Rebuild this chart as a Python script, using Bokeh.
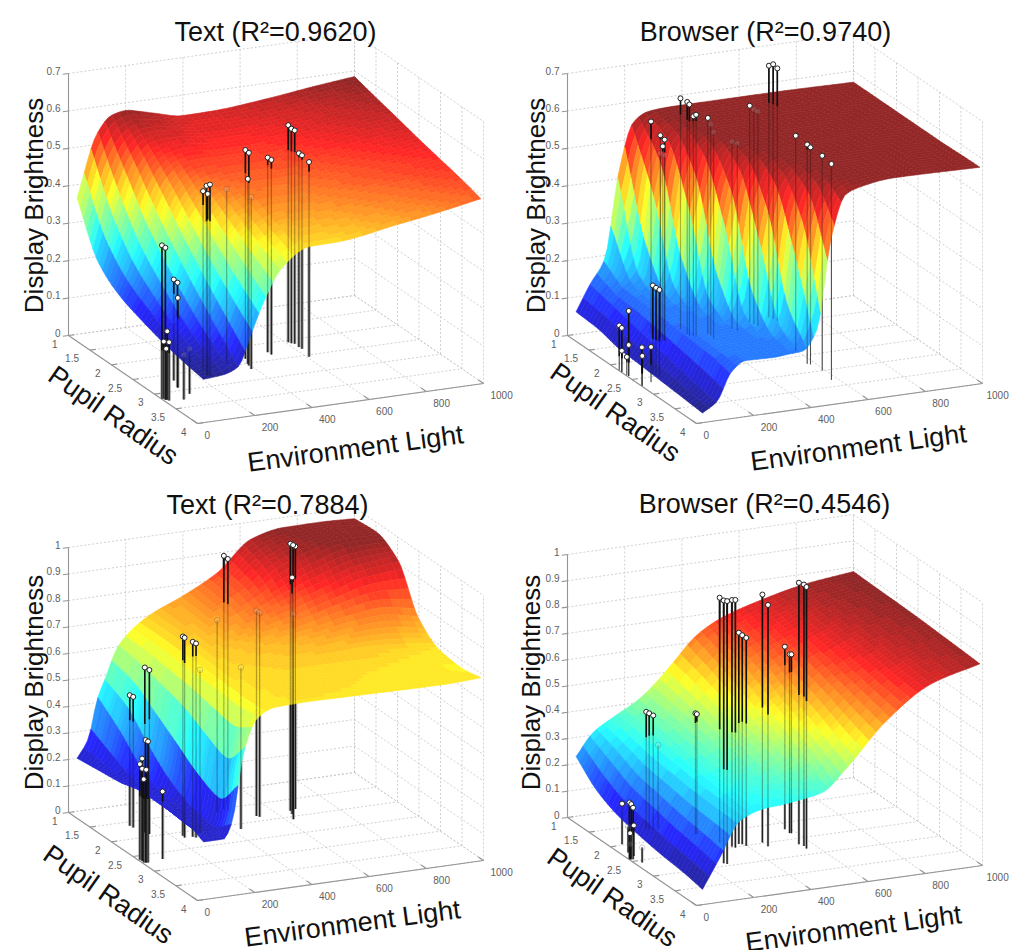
from bokeh.plotting import figure
from bokeh.layouts import column, row
from bokeh.models import Range1d, ColumnDataSource
from bokeh.core.properties import value
from bokeh.embed import file_html
from bokeh.resources import INLINE
import numpy as np

# ---------- shared axis ticks ----------
LIGHT_TICKS = [0, 200, 400, 600, 800, 1000]
PUPIL_TICKS = [1, 1.5, 2, 2.5, 3, 3.5, 4]
PUPIL_LABELS = ["1", "1.5", "2", "2.5", "3", "3.5", "4"]
BRIGHT_TICKS_07 = [0, 0.1, 0.2, 0.3, 0.4, 0.5, 0.6, 0.7]
BRIGHT_TICKS_10 = [0, 0.1, 0.2, 0.3, 0.4, 0.5, 0.6, 0.7, 0.8, 0.9, 1]
PUPIL_KNOTS = [1, 1.5, 2, 2.5, 3, 3.5, 3.94]

# ---------- Text (R2=0.9620) ----------
A_TITLE = "Text (R²=0.9620)"
A_LIGHT = [30, 100, 150, 200, 250, 300, 400, 500, 700, 850, 1000]
A_Z = [
    [.364, .529, .572, .580, .572, .562, .545, .546, .559, .573, .585],
    [.230, .400, .490, .530, .540, .540, .530, .530, .540, .555, .568],
    [.180, .300, .400, .470, .500, .510, .510, .510, .525, .540, .552],
    [.155, .235, .320, .400, .450, .475, .490, .490, .505, .520, .535],
    [.135, .180, .250, .330, .400, .440, .470, .470, .490, .505, .520],
    [.120, .140, .185, .270, .350, .405, .445, .450, .470, .487, .505],
    [.110, .115, .130, .220, .310, .375, .425, .427, .450, .468, .489],
]
A_PT_L = [2, 8, 13, 15, 7, 11, 114, 97, 95, 62, 103, 242, 230, 236, 234, 338, 414, 396, 400, 388, 507, 508, 609, 614, 621, 619, 621, 608]
A_PT_P = [3.16, 3.2, 3.21, 3.24, 3.17, 3.2, 2.69, 2.89, 2.91, 3.27, 3.13, 2.52, 2.68, 2.72, 2.68, 2.43, 2.36, 2.56, 2.51, 2.67, 2.26, 2.34, 2.06, 2.10, 2.13, 2.24, 2.30, 2.55]
A_PT_Z = [.41, .406, .183, .156, .153, .136, .27, .279, .24, .119, .12, .479, .507, .513, .485, .467, .558, .568, .494, .459, .52, .52, .58, .573, .57, .518, .517, .52]

# ---------- Browser (R2=0.9740) ----------
B_TITLE = "Browser (R²=0.9740)"
B_LIGHT = [30, 80, 130, 180, 230, 280, 330, 380, 430, 480, 530, 580, 700, 1000]
B_Z = [
    [.060, .130, .190, .420, .545, .568, .572, .573, .573, .573, .573, .573, .573, .570],
    [.055, .115, .150, .185, .414, .545, .570, .573, .573, .573, .573, .573, .573, .570],
    [.040, .100, .145, .150, .190, .420, .545, .570, .573, .573, .573, .573, .573, .570],
    [.035, .085, .140, .148, .150, .190, .420, .545, .570, .573, .573, .573, .573, .570],
    [.030, .070, .135, .147, .148, .150, .185, .414, .545, .568, .573, .573, .573, .570],
    [.025, .055, .130, .145, .146, .148, .150, .190, .420, .545, .570, .574, .575, .572],
    [.020, .045, .118, .144, .143, .142, .145, .148, .200, .440, .550, .565, .577, .573],
]
B_PT_L = [2, 2, 5, 5, 2, 3, 3, 3, 44, 85, 87, 90, 250, 263, 260, 258, 263, 260, 356, 354, 354, 365, 373, 414, 415, 410, 506, 514, 586, 590, 595, 662, 668, 672, 598, 575, 582, 590, 577]
B_PT_P = [2.19, 2.25, 2.39, 2.39, 2.25, 2.36, 2.71, 2.72, 2.65, 2.42, 2.48, 2.54, 1.28, 1.41, 1.53, 1.5, 1.41, 1.53, 1.26, 1.43, 1.48, 1.5, 1.51, 1.51, 1.57, 1.67, 1.46, 1.53, 1.34, 1.41, 1.47, 1.28, 1.34, 1.41, 2.33, 2.75, 2.78, 3.0, 3.3]
B_PT_Z = [.12, .118, .174, .083, .057, .049, .102, .08, .094, .236, .234, .233, .567, .539, .537, .517, .49, .495, .616, .62, .617, .586, .59, .577, .565, .552, .5, .5, .578, .573, .572, .672, .68, .674, .574, .586, .58, .574, .577]

# ---------- Text (R2=0.7884) ----------
C_TITLE = "Text (R²=0.7884)"
C_LIGHT = [30, 70, 100, 130, 170, 220, 280, 400, 520, 640, 750, 870, 1000]
C_Z = [
    [.20, .27, .41, .49, .595, .655, .70, .757, .826, .936, .962, .963, .958],
    [.21, .24, .34, .45, .58, .655, .70, .75, .81, .90, .945, .97, .964],
    [.22, .22, .26, .36, .55, .65, .695, .735, .775, .82, .86, .90, .915],
    [.24, .22, .22, .28, .52, .645, .69, .71, .725, .74, .76, .77, .745],
    [.24, .21, .21, .23, .47, .64, .685, .695, .70, .70, .70, .69, .68],
    [.24, .20, .20, .21, .43, .635, .68, .69, .69, .685, .68, .675, .67],
    [.21, .21, .21, .27, .525, .65, .68, .684, .682, .68, .678, .677, .683],
]
C_PT_L = [651, 673, 662, 642, 624, 465, 470, 431, 531, 536, 233, 230, 257, 264, 296, 430, 136, 143, 121, 124, 11, 18, 8, 6, 8, 13, 6, 75]
C_PT_P = [1.83, 1.8, 1.82, 1.93, 2.08, 1.52, 1.58, 1.59, 1.84, 1.88, 2.11, 2.17, 2.18, 2.21, 2.09, 2.15, 1.87, 1.93, 1.62, 1.68, 2.72, 2.73, 2.66, 2.62, 2.66, 2.72, 2.71, 2.69]
C_PT_Z = [1.008, .991, 1.0, .893, .774, .956, .95, .726, .774, .771, .752, .754, .736, .732, .614, .61, .623, .619, .493, .493, .462, .457, .386, .361, .348, .35, .314, .255]

# ---------- Browser (R2=0.4546) ----------
D_TITLE = "Browser (R²=0.4546)"
D_LIGHT = [30, 90, 160, 250, 310, 370, 450, 530, 670, 830, 1000]
D_Z = [
    [.227, .310, .357, .412, .467, .534, .623, .673, .722, .761, .783],
    [.150, .270, .340, .400, .450, .510, .590, .645, .700, .755, .780],
    [.110, .230, .320, .385, .430, .480, .550, .610, .680, .745, .778],
    [.090, .210, .310, .365, .400, .445, .505, .560, .660, .735, .775],
    [.075, .190, .300, .350, .375, .410, .460, .520, .635, .725, .770],
    [.065, .175, .295, .335, .350, .370, .405, .470, .610, .715, .765],
    [.050, .160, .290, .325, .330, .338, .355, .430, .590, .710, .760],
]
D_PT_L = [335, 259, 265, 354, 360, 384, 393, 398, 459, 459, 581, 578, 583, 558, 565, 562, 179, 188, 196, 300, 305, 213, 45, 3, 8, 13, 27, 29, 4, 5, 25]
D_PT_P = [2.31, 2.91, 2.95, 2.47, 2.51, 2.43, 2.45, 2.51, 2.48, 2.61, 2.19, 2.32, 2.33, 2.67, 2.74, 2.82, 1.64, 1.65, 1.69, 1.98, 1.98, 1.69, 1.97, 2.42, 2.43, 2.44, 2.23, 2.35, 2.43, 2.43, 2.57]
D_PT_Z = [.931, .999, 1.0, .937, .941, .804, .795, .791, .943, .918, .694, .68, .68, .994, .994, .994, .446, .44, .435, .46, .456, .32, .154, .215, .209, .196, .099, .116, .099, .057, .057]

FONT = "Liberation Sans"
ALPHA = 0.85


def jet(t, levels=64):
    t = np.floor(np.clip(t, 0, 0.9999) * levels) / (levels - 1)
    r = np.clip(np.minimum(4 * t - 1.5, 4.5 - 4 * t), 0, 1)
    g = np.clip(np.minimum(4 * t - 0.5, 3.5 - 4 * t), 0, 1)
    b = np.clip(np.minimum(4 * t + 0.5, 2.5 - 4 * t), 0, 1)
    out = []
    for a, c, d in zip(r, g, b):
        rgb = [int(round(255 * (ALPHA * v + 1 - ALPHA))) for v in (a, c, d)]
        out.append("#%02x%02x%02x" % tuple(rgb))
    return out


def smooth(xk, yk, xq):
    xk = np.asarray(xk, float)
    yk = np.asarray(yk, float)
    h = np.diff(xk)
    s = np.diff(yk) / h
    m = np.zeros_like(yk)
    for i in range(1, len(xk) - 1):
        if s[i - 1] * s[i] > 0:
            w1, w2 = 2 * h[i] + h[i - 1], h[i] + 2 * h[i - 1]
            m[i] = (w1 + w2) / (w1 / s[i - 1] + w2 / s[i])
    m[0], m[-1] = s[0], s[-1]
    xq = np.asarray(xq, float)
    k = np.clip(np.searchsorted(xk, xq) - 1, 0, len(h) - 1)
    t = (xq - xk[k]) / h[k]
    return ((2 * t ** 3 - 3 * t ** 2 + 1) * yk[k] + (t ** 3 - 2 * t ** 2 + t) * h[k] * m[k]
            + (-2 * t ** 3 + 3 * t ** 2) * yk[k + 1] + (t ** 3 - t ** 2) * h[k] * m[k + 1])


def surface(lk, zt, lq, pq):
    """Value table on the (light, pupil) grid lq x pq."""
    rows = np.array([smooth(lk, r, lq) for r in zt])
    return np.array([smooth(PUPIL_KNOTS, rows[:, j], pq) for j in range(len(lq))]).T


def panel(title, lk, zt, ptl, ptp, ptz, zticks, zmax, clim, geo, frame, labels, tube=3.2, lab1000=0):
    ox, oy, H = geo
    xr, yr = frame
    p = figure(width=xr[1] - xr[0], height=yr[0] - yr[1], x_range=Range1d(*xr), y_range=Range1d(*yr),
               output_backend="svg", toolbar_location=None, x_axis_location=None, y_axis_location=None,
               min_border=0, outline_line_color=None, background_fill_color="white",
               border_fill_color="white")
    p.grid.visible = False

    def proj(L, P, Z):
        l = (np.asarray(L, float)) / 1000.0
        q = (np.asarray(P, float) - 1) / 3.0
        return ox + 286 * l + 129 * q, oy - 40 * l + 88 * q - H * np.asarray(Z, float) / zmax

    # grid on floor and two walls
    gx, gy = [], []
    def seg(a, b):
        x, y = proj(*zip(a, b))
        gx.append(list(x)); gy.append(list(y))
    for L in LIGHT_TICKS:
        seg((L, 1, 0), (L, 4, 0)); seg((L, 1, 0), (L, 1, zmax))
    for P in PUPIL_TICKS:
        seg((0, P, 0), (1000, P, 0)); seg((1000, P, 0), (1000, P, zmax))
    for Z in zticks:
        seg((0, 1, Z), (1000, 1, Z)); seg((1000, 1, Z), (1000, 4, Z))
    p.multi_line(gx, gy, line_color="#c4c4c4", line_width=0.8, line_dash="2 2")

    # solid axes
    ax, ay = [], []
    for a, b in [((0, 1, 0), (0, 1, zmax)), ((0, 1, 0), (0, 4, 0)), ((0, 4, 0), (1000, 4, 0))]:
        x, y = proj(*zip(a, b))
        ax.append(list(x)); ay.append(list(y))
    for Z in zticks:
        x, y = proj(*zip((0, 1, Z), (-20, 1, Z)))
        ax.append(list(x)); ay.append(list(y))
    for L in LIGHT_TICKS:
        x, y = proj(*zip((L, 4, 0), (L, 3.88, 0)))
        ax.append(list(x)); ay.append(list(y))
    for P in PUPIL_TICKS:
        x, y = proj(*zip((0, P, 0), (20, P, 0)))
        ax.append(list(x)); ay.append(list(y))
    p.multi_line(ax, ay, line_color="#959595", line_width=1.1)

    # stems behind the surface
    ptl, ptp, ptz = np.array(ptl, float), np.array(ptp, float), np.array(ptz, float)
    zero = np.zeros_like(ptz)
    x0, y0 = proj(ptl, ptp, zero)
    x1, y1 = proj(ptl, ptp, ptz)
    stems = ColumnDataSource(dict(x0=x0, y0=y0, x1=x1, y1=y1))
    if tube:
        p.segment("x0", "y0", "x1", "y1", source=stems, line_color="#8a8a8a", line_width=tube, line_alpha=0.75)
        p.segment("x0", "y0", "x1", "y1", source=stems, line_color="#111111", line_width=1.2, line_alpha=0.85)
    else:
        p.segment("x0", "y0", "x1", "y1", source=stems, line_color="#555555", line_width=1.0, line_alpha=0.9)

    # surface: flat facets, each one outlined finely so its silhouette stays smooth
    NL, NP, SUB = 40, 40, 2
    lq = np.linspace(lk[0], lk[-1], NL * SUB + 1)
    pq = np.linspace(PUPIL_KNOTS[0], PUPIL_KNOTS[-1], NP * SUB + 1)
    Z = surface(lk, zt, lq, pq)
    LL, PP = np.meshgrid(lq, pq)
    X, Y = proj(LL, PP, Z)
    xs, ys, vals = [], [], []
    for i in range(NL - 1, -1, -1):
        for j in range(NP):
            a, b = i * SUB, j * SUB
            ii = list(range(a, a + SUB)) + [a + SUB] * SUB + list(range(a + SUB, a, -1)) + [a] * SUB
            jj = [b] * SUB + list(range(b, b + SUB)) + [b + SUB] * SUB + list(range(b + SUB, b, -1))
            xs.append(X[jj, ii].tolist())
            ys.append(Y[jj, ii].tolist())
            vals.append(Z[b + SUB // 2, a + SUB // 2])
    cols = jet((np.array(vals) - clim[0]) / (clim[1] - clim[0]))
    p.patches(xs=xs, ys=ys, fill_color=cols, line_color=cols, line_width=0.6)

    # stems seen through the surface, and the parts standing above it
    p.segment("x0", "y0", "x1", "y1", source=stems, line_color="#111111", line_width=1.2, line_alpha=0.3)
    sz = np.array([surface(lk, zt, [max(a, lk[0])], [min(b, PUPIL_KNOTS[-1])])[0, 0] for a, b in zip(ptl, ptp)])
    above = ptz > sz
    xs0, ys0 = proj(ptl, ptp, sz)
    top = ColumnDataSource(dict(x0=x1[above], y0=np.minimum(ys0, y0)[above], x1=x1[above], y1=y1[above]))
    p.segment("x0", "y0", "x1", "y1", source=top, line_color="#111111", line_width=1.6)
    p.scatter(x1[~above], y1[~above], size=5.5, marker="circle", fill_color="white", fill_alpha=0.12,
              line_color="#222222", line_alpha=0.25, line_width=0.8)
    p.scatter(x1[above], y1[above], size=5, marker="circle", fill_color="white",
              line_color="#222222", line_width=1.0)

    # tick labels
    tick_kw = dict(text_font=value(FONT), text_font_size=value("10px"), text_color="#5e5e5e",
                   text_baseline="middle")
    zl = [("%g" % z) for z in zticks]
    zx, zy = proj([0] * len(zticks), [1] * len(zticks), zticks)
    p.text(zx - 8, zy - 3, text=zl, text_align="right", **tick_kw)
    lx, ly = proj(LIGHT_TICKS, [4] * 6, [0] * 6)
    lx = lx + 7
    lx[-1] += lab1000
    p.text(lx, ly + 11, text=[str(v) for v in LIGHT_TICKS], text_align="left", **tick_kw)
    px, py = proj([0] * 7, PUPIL_TICKS, [0] * 7)
    p.text(px - 11, py + 8, text=PUPIL_LABELS, text_align="right", **tick_kw)

    # titles and axis titles
    kw = dict(text_font=value(FONT), text_color="#111111", text_align="center")
    (tx, ty), (dx_, dy_), (ex, ey), (qx, qy) = labels
    p.text([tx], [ty], text=[title], text_font_size=value("27px"), text_baseline="alphabetic", **kw)
    p.text([dx_], [dy_], text=["Display Brightness"], text_font_size=value("26px"), angle=np.pi / 2,
           text_baseline="alphabetic", **kw)
    p.text([ex], [ey], text=["Environment Light"], text_font_size=value("27px"), angle=np.radians(7.6),
           text_baseline="alphabetic", **kw)
    p.text([qx], [qy], text=["Pupil Radius"], text_font_size=value("27px"), angle=np.radians(-35),
           text_baseline="middle", **kw)
    return p


p1 = panel(A_TITLE, A_LIGHT, A_Z, A_PT_L, A_PT_P, A_PT_Z, BRIGHT_TICKS_07, 0.7, (.11, .585), (68, 335, 262),
           ((0, 513), (475, 0)), ((275, 31), (33, 205), (355, 448), (113, 415)))
p2 = panel(B_TITLE, B_LIGHT, B_Z, B_PT_L, B_PT_P, B_PT_Z, BRIGHT_TICKS_07, 0.7, (.02, .575), (567, 335, 262),
           ((513, 1011), (475, 0)), ((765, 31), (535, 205), (858, 447), (615, 412)), tube=0, lab1000=-3)
p3 = panel(C_TITLE, C_LIGHT, C_Z, C_PT_L, C_PT_P, C_PT_Z, BRIGHT_TICKS_10, 1.0, (.15, .965), (68, 812, 265),
           ((0, 513), (950, 475)), ((267, 504), (33, 682), (352, 923), (108, 894)))
p4 = panel(D_TITLE, D_LIGHT, D_Z, D_PT_L, D_PT_P, D_PT_Z, BRIGHT_TICKS_10, 1.0, (.05, .783), (567, 817, 263),
           ((513, 1011), (950, 475)), ((764, 503), (530, 682), (853, 928), (612, 897)), tube=2.4, lab1000=-3)

layout = column(row(p1, p2), row(p3, p4))
open("out.html", "w").write(file_html(layout, INLINE))
